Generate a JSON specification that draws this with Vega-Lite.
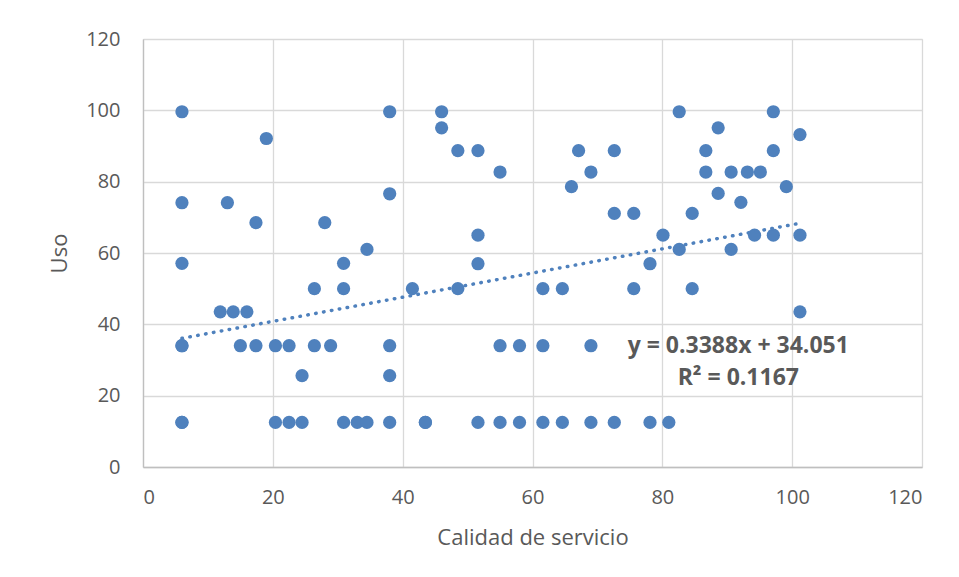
{
  "$schema": "https://vega.github.io/schema/vega-lite/v6.json",
  "width": 779,
  "height": 428,
  "autosize": {"type": "none"},
  "padding": {"left": 143, "top": 39, "right": 37, "bottom": 110},
  "background": "white",
  "config": {
    "font": "Open Sans",
    "view": {"stroke": "#d9d9d9", "strokeWidth": 1},
    "axis": {
      "gridColor": "#d9d9d9",
      "gridWidth": 1.3,
      "domainColor": "#bfbfbf",
      "domainWidth": 1.3,
      "ticks": false,
      "labelColor": "#595959",
      "labelFont": "Open Sans",
      "labelFontSize": 20,
      "titleColor": "#595959",
      "titleFont": "Open Sans",
      "titleFontSize": 22,
      "titleFontWeight": "normal"
    }
  },
  "datasets": {
    "pts": [
      {"calidad": 6, "uso": 99.6}, {"calidad": 6, "uso": 74.1}, {"calidad": 6, "uso": 57.1},
      {"calidad": 6, "uso": 34}, {"calidad": 6, "uso": 34}, {"calidad": 6, "uso": 12.5}, {"calidad": 6, "uso": 12.5},
      {"calidad": 11.9, "uso": 43.5}, {"calidad": 13, "uso": 74.1}, {"calidad": 13.9, "uso": 43.5},
      {"calidad": 15, "uso": 34}, {"calidad": 16, "uso": 43.5}, {"calidad": 17.4, "uso": 68.5},
      {"calidad": 17.4, "uso": 34}, {"calidad": 19, "uso": 92.1}, {"calidad": 20.4, "uso": 34},
      {"calidad": 20.4, "uso": 12.5}, {"calidad": 22.5, "uso": 34}, {"calidad": 22.5, "uso": 12.5},
      {"calidad": 24.5, "uso": 25.6}, {"calidad": 24.5, "uso": 12.5}, {"calidad": 26.4, "uso": 50},
      {"calidad": 26.4, "uso": 34}, {"calidad": 28, "uso": 68.5}, {"calidad": 28.9, "uso": 34},
      {"calidad": 30.9, "uso": 57.1}, {"calidad": 30.9, "uso": 50}, {"calidad": 30.9, "uso": 12.5},
      {"calidad": 33, "uso": 12.5}, {"calidad": 34.5, "uso": 61}, {"calidad": 34.5, "uso": 12.5},
      {"calidad": 38, "uso": 99.6}, {"calidad": 38, "uso": 76.6}, {"calidad": 38, "uso": 34},
      {"calidad": 38, "uso": 25.6}, {"calidad": 38, "uso": 12.5}, {"calidad": 41.5, "uso": 50},
      {"calidad": 43.5, "uso": 12.5}, {"calidad": 43.5, "uso": 12.5}, {"calidad": 46, "uso": 99.6},
      {"calidad": 46, "uso": 95.1}, {"calidad": 48.5, "uso": 88.7}, {"calidad": 48.5, "uso": 50},
      {"calidad": 51.6, "uso": 88.7}, {"calidad": 51.6, "uso": 65}, {"calidad": 51.6, "uso": 57},
      {"calidad": 51.6, "uso": 12.5}, {"calidad": 55, "uso": 82.7}, {"calidad": 55, "uso": 34},
      {"calidad": 55, "uso": 12.5}, {"calidad": 58, "uso": 34}, {"calidad": 58, "uso": 12.5},
      {"calidad": 61.6, "uso": 50}, {"calidad": 61.6, "uso": 34}, {"calidad": 61.6, "uso": 12.5},
      {"calidad": 64.6, "uso": 50}, {"calidad": 64.6, "uso": 12.5}, {"calidad": 66, "uso": 78.6},
      {"calidad": 67.1, "uso": 88.7}, {"calidad": 69, "uso": 82.7}, {"calidad": 69, "uso": 34},
      {"calidad": 69, "uso": 12.5}, {"calidad": 72.6, "uso": 88.7}, {"calidad": 72.6, "uso": 71.1},
      {"calidad": 72.6, "uso": 12.5}, {"calidad": 75.6, "uso": 71.1}, {"calidad": 75.6, "uso": 50},
      {"calidad": 78.1, "uso": 57}, {"calidad": 78.1, "uso": 12.5}, {"calidad": 80.1, "uso": 65},
      {"calidad": 81, "uso": 12.5}, {"calidad": 82.6, "uso": 99.6}, {"calidad": 82.6, "uso": 61},
      {"calidad": 84.6, "uso": 71.1}, {"calidad": 84.6, "uso": 50}, {"calidad": 86.7, "uso": 88.7},
      {"calidad": 86.7, "uso": 82.7}, {"calidad": 88.6, "uso": 95.1}, {"calidad": 88.6, "uso": 76.7},
      {"calidad": 90.6, "uso": 82.7}, {"calidad": 90.6, "uso": 61}, {"calidad": 92.1, "uso": 74.2},
      {"calidad": 93.1, "uso": 82.7}, {"calidad": 94.2, "uso": 65}, {"calidad": 95.1, "uso": 82.7},
      {"calidad": 97.1, "uso": 99.6}, {"calidad": 97.1, "uso": 88.7}, {"calidad": 97.1, "uso": 65},
      {"calidad": 99.1, "uso": 78.6}, {"calidad": 101.2, "uso": 93.2}, {"calidad": 101.2, "uso": 65},
      {"calidad": 101.2, "uso": 43.5}
    ],
    "trend": [
      {"calidad": 6, "uso": 36.08},
      {"calidad": 101.2, "uso": 68.34}
    ],
    "labels": [
      {"calidad": 91.7, "uso": 34.0, "texto": "y = 0.3388x + 34.051"},
      {"calidad": 91.7, "uso": 25.0, "texto": "R² = 0.1167"}
    ]
  },
  "encoding": {
    "x": {
      "field": "calidad", "type": "quantitative",
      "scale": {"domain": [0, 120], "nice": false},
      "axis": {"values": [0, 20, 40, 60, 80, 100, 120], "title": "Calidad de servicio", "labelPadding": 20, "titlePadding": 20}
    },
    "y": {
      "field": "uso", "type": "quantitative",
      "scale": {"domain": [0, 120], "nice": false},
      "axis": {"values": [0, 20, 40, 60, 80, 100, 120], "title": "Uso", "labelPadding": 23, "titlePadding": 14}
    }
  },
  "layer": [
    {
      "data": {"name": "pts"},
      "mark": {"type": "circle", "size": 175, "color": "#4f81bd", "opacity": 1}
    },
    {
      "data": {"name": "trend"},
      "mark": {"type": "line", "color": "#4f81bd", "strokeWidth": 3.5, "strokeCap": "round", "strokeDash": [0.5, 7.5]}
    },
    {
      "data": {"name": "labels"},
      "mark": {"type": "text", "font": "Open Sans", "fontSize": 23, "fontWeight": "bold", "color": "#595959", "align": "center", "baseline": "middle"},
      "encoding": {"text": {"field": "texto"}}
    }
  ]
}
